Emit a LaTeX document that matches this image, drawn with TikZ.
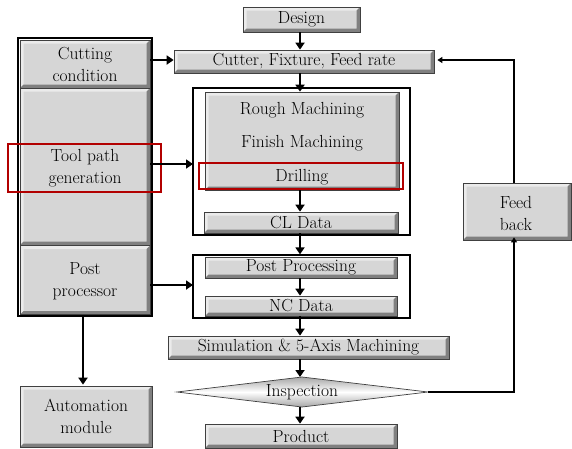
\documentclass[tikz,border=0pt]{standalone}
\usetikzlibrary{arrows.meta,calc}
\begin{document}
\begin{tikzpicture}[x=1pt,y=-1pt,
  font=\fontsize{17.5}{22}\selectfont,
  bevel/.style={rectangle, inner sep=0pt, align=center,
    draw=black!75, line width=0.7pt, fill=black!16,
    path picture={
      \fill[white!92!black]
        (path picture bounding box.north west) -- (path picture bounding box.north east)
        -- ([xshift=-3.5pt,yshift=-3.5pt]path picture bounding box.north east)
        -- ([xshift=3.5pt,yshift=-3.5pt]path picture bounding box.north west)
        -- ([xshift=3.5pt,yshift=3.5pt]path picture bounding box.south west)
        -- (path picture bounding box.south west) -- cycle;
      \fill[black!50]
        (path picture bounding box.south east) -- (path picture bounding box.north east)
        -- ([xshift=-3.5pt,yshift=-3.5pt]path picture bounding box.north east)
        -- ([xshift=-3.5pt,yshift=3.5pt]path picture bounding box.south east)
        -- ([xshift=3.5pt,yshift=3.5pt]path picture bounding box.south west)
        -- (path picture bounding box.south west) -- cycle;
    }},
  frame/.style={draw=black, line width=1.8pt},
  redbox/.style={draw=red!70!black, line width=2.6pt},
  flow/.style={-{Triangle[width=9pt,length=7pt]}, line width=2.8pt},
  back/.style={-{Triangle[width=6pt,length=5pt]}, line width=1.6pt},
  label/.style={inner sep=0pt}
]
\useasboundingbox (0,0) rectangle (572,448);

% left column of software modules
\draw[frame, line width=2.4pt] (18,38) rectangle (152,316);
\node[bevel, minimum width=130pt, minimum height=48pt] (cut) at (85,64) {Cutting\\condition};
\node[bevel, minimum width=130pt, minimum height=157pt] (tool) at (85,166.5) {};
\node[label, align=center] (toollbl) at (85,168) {Tool path\\generation};
\node[bevel, minimum width=130pt, minimum height=69pt] (post) at (85,280) {};
\node[label, align=center] (postlbl) at (85,281) {Post\\processor};
\node[bevel, minimum width=132pt, minimum height=61pt] (auto) at (86,416.5) {Automation\\module};

% main process chain
\node[bevel, minimum width=117pt, minimum height=25pt] (design) at (301.5,19.5) {Design};
\node[bevel, minimum width=260pt, minimum height=23pt] (cutter) at (304,61.5) {Cutter, Fixture, Feed rate};

\draw[frame] (193,88) rectangle (410,235);
\coordinate (grpA) at (193,164);
\node[bevel, minimum width=194pt, minimum height=98pt] (mach) at (302,141) {};
\node[label] (rough) at (302,110) {Rough Machining};
\node[label] (finish) at (302,143) {Finish Machining};
\node[label] (drill) at (302,177) {Drilling};
\node[bevel, minimum width=194pt, minimum height=21pt] (cl) at (301,222.5) {CL Data};

\draw[frame] (193,255) rectangle (410,318);
\coordinate (grpB) at (193,285);
\node[bevel, minimum width=192pt, minimum height=21pt] (pp) at (301,267.5) {Post Processing};
\node[bevel, minimum width=192pt, minimum height=20pt] (nc) at (301,306) {NC Data};
\node[bevel, minimum width=281pt, minimum height=23pt] (sim) at (308.5,347.5) {Simulation \& 5-Axis Machining};

% inspection decision
\coordinate (inL) at (177,392);
\coordinate (inR) at (428,392);
\coordinate (inT) at (302,377);
\coordinate (inB) at (302,407);
\shade[top color=black!35, bottom color=black!35, middle color=white, draw=black!75, line width=0.7pt]
  (inL) -- (inT) -- (inR) -- (inB) -- cycle;
\node[label] (insp) at (302,392) {Inspection};

\node[bevel, minimum width=192pt, minimum height=24pt] (prod) at (301,436) {Product};
\node[bevel, minimum width=108pt, minimum height=57pt] (fb) at (517,211.5) {};
\node[label, align=center] (fblbl) at (516,213) {Feed\\back};

% highlight frames
\draw[redbox] (8,144) rectangle (161,192);
\draw[redbox] (199,163) rectangle (403,189);

% connectors
\draw[flow] (design.south -| 300,0) -- (cutter.north -| 300,0);
\draw[flow] (cutter.south -| 300,0) -- (mach.north -| 300,0);
\draw[flow] (mach.south -| 300,0) -- (cl.north -| 300,0);
\draw[flow] (cl.south -| 300,0) -- ++(0,21);
\draw[flow] (pp.south -| 300,0) -- (nc.north -| 300,0);
\draw[flow] (nc.south -| 300,0) -- (sim.north -| 300,0);
\draw[flow] (sim.south -| 300,0) -- (inT -| 300,0);
\draw[flow] (inB -| 300,0) -- (prod.north -| 300,0);

\draw[flow] (cut.east |- 0,60) -- (cutter.west |- 0,60);
\draw[flow] (tool.east |- grpA) -- (grpA);
\draw[flow] (post.east |- grpB) -- (grpB);
\draw[flow] (post.south -| 83,0) -- ([yshift=1pt]auto.north -| 83,0);

\draw[back] (inR) -| ([yshift=3pt]fb.south -| 514,0);
\draw[back] (fb.north -| 514,0) |- ([xshift=3pt]cutter.east |- 0,60);
\end{tikzpicture}
\end{document}
